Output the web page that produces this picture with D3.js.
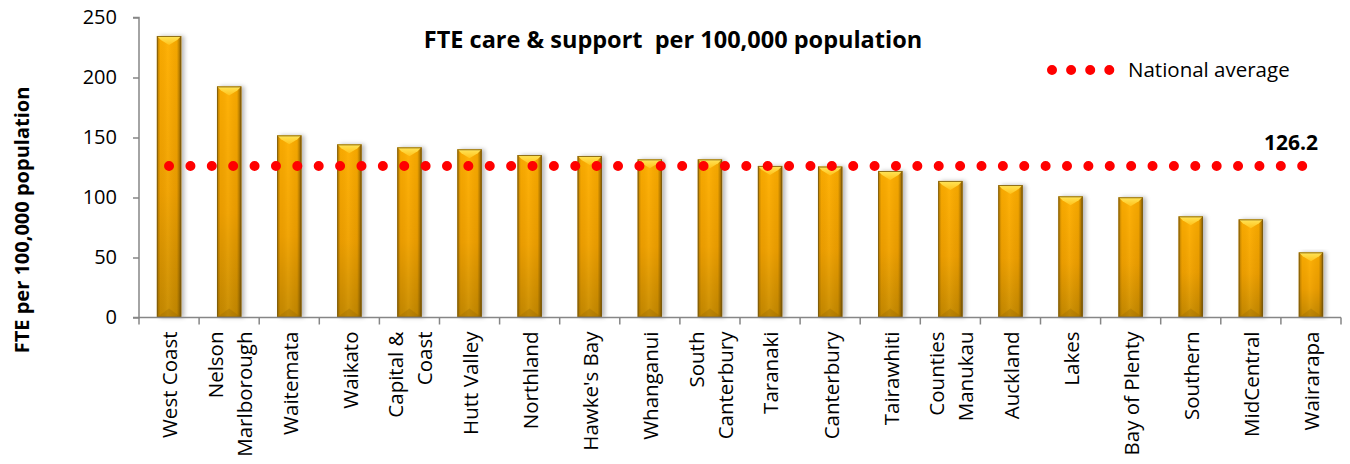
<!DOCTYPE html>
<html>
<head>
<meta charset="utf-8">
<script src="https://cdn.jsdelivr.net/npm/d3@7"></script>
<style>
  html, body { margin: 0; padding: 0; background: #ffffff; }
  svg { display: block; font-family: "Open Sans", "Noto Sans", sans-serif; }
</style>
</head>
<body>
<svg id="chart" width="1350" height="464"></svg>
<script>
// ---- data ----
const categories = ["West Coast", "Nelson\nMarlborough", "Waitemata", "Waikato", "Capital &\nCoast",
  "Hutt Valley", "Northland", "Hawke's Bay", "Whanganui", "South\nCanterbury", "Taranaki",
  "Canterbury", "Tairawhiti", "Counties\nManukau", "Auckland", "Lakes", "Bay of Plenty",
  "Southern", "MidCentral", "Wairarapa"];
const values = [234.6, 192.6, 151.8, 144.3, 141.8, 140.2, 135.4, 134.6, 131.8, 131.8, 126.3,
  125.8, 122.1, 113.8, 110.4, 101.0, 100.2, 84.3, 81.8, 54.3];
const nationalAverage = 126.2;
const yTicks = [0, 50, 100, 150, 200, 250];
const titleText = "FTE care & support  per 100,000 population";
const yTitleText = "FTE per 100,000 population";
const legendText = "National average";

// ---- layout ----
const svg = d3.select("#chart");
const plotLeft = 139, plotRight = 1341, plotTop = 17.5, plotBottom = 317.5;

const x = d3.scaleBand().domain(categories).range([plotLeft, plotRight])
  .paddingInner(0.595).paddingOuter(0.2975);
const y = d3.scaleLinear().domain([0, 250]).range([plotBottom, plotTop]);

const defs = svg.append("defs");
const gV = defs.append("linearGradient").attr("id", "barV").attr("x1", 0).attr("y1", 0).attr("x2", 0).attr("y2", 1);
gV.append("stop").attr("offset", "0%").attr("stop-color", "#FFAE00");
gV.append("stop").attr("offset", "55%").attr("stop-color", "#F0A000");
gV.append("stop").attr("offset", "100%").attr("stop-color", "#C48804");
const gH = defs.append("linearGradient").attr("id", "barH").attr("x1", 0).attr("y1", 0).attr("x2", 1).attr("y2", 0);
gH.append("stop").attr("offset", "0%").attr("stop-color", "#6b4a00").attr("stop-opacity", 0.55);
gH.append("stop").attr("offset", "14%").attr("stop-color", "#6b4a00").attr("stop-opacity", 0.05);
gH.append("stop").attr("offset", "45%").attr("stop-color", "#ffd040").attr("stop-opacity", 0.12);
gH.append("stop").attr("offset", "82%").attr("stop-color", "#6b4a00").attr("stop-opacity", 0.08);
gH.append("stop").attr("offset", "100%").attr("stop-color", "#4a3300").attr("stop-opacity", 0.7);
const gTop = defs.append("linearGradient").attr("id", "barTop").attr("x1", 0).attr("y1", 0).attr("x2", 0).attr("y2", 1);
gTop.append("stop").attr("offset", "0%").attr("stop-color", "#FFE65A");
gTop.append("stop").attr("offset", "100%").attr("stop-color", "#FFC21A");
const shadow = defs.append("filter").attr("id", "shadow").attr("x", "-30%").attr("y", "-5%").attr("width", "170%").attr("height", "110%");
shadow.append("feDropShadow").attr("dx", 3).attr("dy", 0).attr("stdDeviation", 2.2)
  .attr("flood-color", "#000").attr("flood-opacity", 0.28);

// ---- bars ----
const bw = x.bandwidth();
const bars = svg.append("g").selectAll("g.bar").data(categories).join("g").attr("class", "bar");
bars.append("rect")
  .attr("x", d => x(d)).attr("y", (d, i) => y(values[i]))
  .attr("width", bw).attr("height", (d, i) => y(0) - y(values[i]))
  .attr("fill", "url(#barV)").attr("filter", "url(#shadow)");
bars.append("rect")
  .attr("x", d => x(d)).attr("y", (d, i) => y(values[i]))
  .attr("width", bw).attr("height", (d, i) => y(0) - y(values[i]))
  .attr("fill", "url(#barH)");
bars.append("polygon")
  .attr("points", (d, i) => {
    const x0 = x(d), t = y(values[i]);
    return `${x0},${t} ${x0 + bw},${t} ${x0 + bw - 4},${t + 4} ${x0 + bw / 2},${t + 9} ${x0 + 4},${t + 4}`;
  })
  .attr("fill", "url(#barTop)");
bars.append("polygon")
  .attr("points", d => {
    const x0 = x(d), b = y(0);
    return `${x0},${b} ${x0 + bw},${b} ${x0 + bw / 2},${b - 9}`;
  })
  .attr("fill", "#8a5f00").attr("opacity", 0.25);
bars.append("rect")
  .attr("x", d => x(d) + 0.5).attr("y", (d, i) => y(values[i]) + 0.5)
  .attr("width", bw - 1).attr("height", (d, i) => y(0) - y(values[i]) - 1)
  .attr("fill", "none").attr("stroke", "#7d5a0c").attr("stroke-width", 1).attr("stroke-opacity", 0.85);

// ---- axes ----
const axisColor = "#868686";
const yAxis = svg.append("g").attr("transform", `translate(${plotLeft},0)`)
  .call(d3.axisLeft(y).tickValues(yTicks).tickSize(6).tickPadding(16).tickFormat(d3.format("d")));
yAxis.select(".domain").attr("stroke", axisColor).attr("stroke-width", 1.5).attr("d", `M-6,${plotTop}H0V${plotBottom}H-6`);
yAxis.selectAll(".tick line").attr("stroke", axisColor).attr("stroke-width", 1.5);
yAxis.selectAll(".tick text").attr("font-size", 20).attr("fill", "#000")
  .attr("font-family", "'Open Sans', sans-serif");

// x axis line and ticks at band boundaries
const xg = svg.append("g");
xg.append("line").attr("x1", plotLeft).attr("x2", plotRight).attr("y1", plotBottom).attr("y2", plotBottom)
  .attr("stroke", axisColor).attr("stroke-width", 1.5);
const boundaries = d3.range(categories.length + 1).map(i => plotLeft + i * x.step());
xg.selectAll("line.xt").data(boundaries).join("line").attr("class", "xt")
  .attr("x1", d => d).attr("x2", d => d).attr("y1", plotBottom).attr("y2", plotBottom + 7)
  .attr("stroke", axisColor).attr("stroke-width", 1.5);

// x labels (rotated)
const lineGap = 29;
const labels = xg.selectAll("g.xl").data(categories).join("g").attr("class", "xl")
  .attr("transform", d => `translate(${x(d) + bw / 2 + 1},${plotBottom + 14}) rotate(-90)`);
labels.each(function(d) {
  const lines = d.split("\n");
  const g = d3.select(this);
  lines.forEach((ln, k) => {
    const off = (k - (lines.length - 1) / 2) * lineGap;
    g.append("text").attr("x", 0).attr("y", off).attr("dy", "0.36em")
      .attr("text-anchor", "end").attr("font-size", 20.5).attr("fill", "#000").text(ln);
  });
});

// ---- national average dotted line ----
const avgLine = d3.line().x(d => x(d) + bw / 2).y(() => y(nationalAverage));
svg.append("path").datum(categories).attr("d", avgLine)
  .attr("fill", "none").attr("stroke", "#FF0000").attr("stroke-width", 10)
  .attr("stroke-linecap", "round").attr("stroke-dasharray", "0 21.38");
svg.append("text").attr("x", x(categories[categories.length - 1]) + bw / 2 + 7).attr("y", y(nationalAverage) - 16)
  .attr("text-anchor", "end").attr("font-size", 21).attr("font-weight", "bold").attr("fill", "#000")
  .text(d3.format(".1f")(nationalAverage));

// ---- title ----
svg.append("text").attr("x", 673).attr("y", 40).attr("dy", "0.36em").attr("text-anchor", "middle")
  .attr("font-size", 23.5).attr("font-weight", "bold").style("white-space", "pre").attr("fill", "#000")
  .text(titleText);

// ---- y title ----
svg.append("text").attr("transform", `translate(22,220) rotate(-90)`).attr("dy", "0.36em")
  .attr("text-anchor", "middle").attr("font-size", 20).attr("font-weight", "bold").attr("fill", "#000")
  .text(yTitleText);

// ---- legend ----
const legend = svg.append("g");
legend.append("line").attr("x1", 1052).attr("x2", 1109.5).attr("y1", 70).attr("y2", 70)
  .attr("stroke", "#FF0000").attr("stroke-width", 10).attr("stroke-linecap", "round")
  .attr("stroke-dasharray", "0 19.1");
legend.append("text").attr("x", 1128).attr("y", 70).attr("dy", "0.36em").attr("font-size", 20.5)
  .attr("fill", "#000").text(legendText);
</script>
</body>
</html>
